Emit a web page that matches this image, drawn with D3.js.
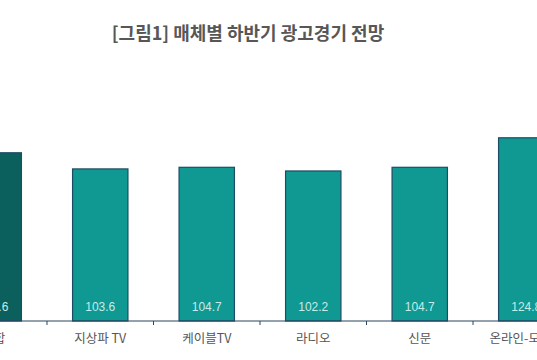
<!DOCTYPE html>
<html>
<head>
<meta charset="utf-8">
<script src="https://cdn.jsdelivr.net/npm/d3@7"></script>
<style>
  body { margin: 0; background: #fff; }
  svg { display: block; }
</style>
</head>
<body>
<svg width="537" height="360"></svg>
<script>
const title = "[그림1] 매체별 하반기 광고경기 전망"
const categories = ["종합", "지상파 TV", "케이블TV", "라디오", "신문", "온라인-모바일"]
const values = [114.6, 103.6, 104.7, 102.2, 104.7, 124.8]

const W = 537, H = 360
const baseY = 321

const svg = d3.select("svg")

// title
svg.append("text")
  .attr("x", 248)
  .attr("y", 40)
  .attr("text-anchor", "middle")
  .attr("font-family", "'Noto Sans CJK KR', sans-serif")
  .attr("font-size", 18)
  .attr("font-weight", 700)
  .attr("fill", "#575757")
  .text(title)

// scales (chart is cropped at both sides)
const x = d3.scaleBand()
  .domain(categories)
  .range([-59.5, 579.5])
  .paddingInner(0.48)
  .paddingOuter(0.24)

const y = d3.scaleLinear()
  .domain([0, 100])
  .range([baseY, baseY - 146.8])

// bars
svg.append("g")
  .selectAll("rect")
  .data(categories)
  .enter()
  .append("rect")
  .attr("x", d => x(d))
  .attr("y", (d, i) => y(values[i]))
  .attr("width", x.bandwidth())
  .attr("height", (d, i) => y(0) - y(values[i]))
  .attr("fill", (d, i) => i === 0 ? "#0b605d" : "#109893")
  .attr("stroke", "#1d4c63")
  .attr("stroke-width", 1.2)

// value labels
svg.append("g")
  .selectAll("text")
  .data(categories)
  .enter()
  .append("text")
  .attr("x", d => x(d) + x.bandwidth() / 2)
  .attr("y", 311)
  .attr("text-anchor", "middle")
  .attr("font-family", "'Liberation Sans Narrow', 'Liberation Sans', sans-serif")
  .attr("font-size", 12)
  .attr("fill", "#c4ece8")
  .text((d, i) => values[i].toFixed(1))

// axis line + ticks between categories
svg.append("line")
  .attr("x1", 0).attr("x2", W)
  .attr("y1", baseY).attr("y2", baseY)
  .attr("stroke", "#2a4660")
  .attr("stroke-width", 1.2)

const gap = (x.step() - x.bandwidth()) / 2
svg.append("g")
  .selectAll("line")
  .data(categories.slice(1))
  .enter()
  .append("line")
  .attr("x1", d => x(d) - gap)
  .attr("x2", d => x(d) - gap)
  .attr("y1", baseY)
  .attr("y2", baseY + 4)
  .attr("stroke", "#2a4660")
  .attr("stroke-width", 1)

// category labels
svg.append("g")
  .selectAll("text")
  .data(categories)
  .enter()
  .append("text")
  .attr("x", d => x(d) + x.bandwidth() / 2)
  .attr("y", 343)
  .attr("text-anchor", "middle")
  .attr("font-family", "'Noto Sans CJK KR', sans-serif")
  .attr("font-size", 12.5)
  .attr("fill", "#555")
  .text(d => d)
</script>
</body>
</html>
